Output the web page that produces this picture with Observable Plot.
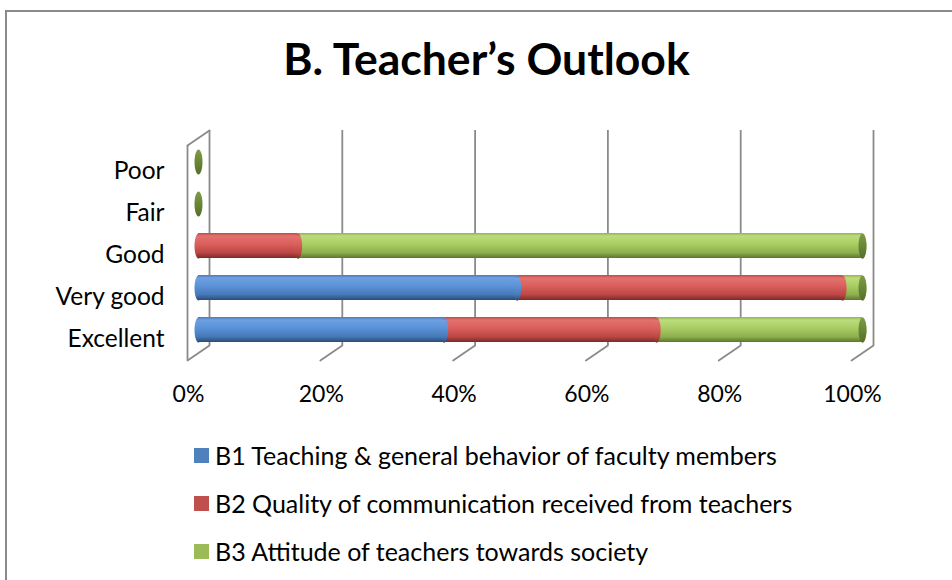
<!DOCTYPE html>
<html>
<head>
<meta charset="utf-8">
<script src="https://cdn.jsdelivr.net/npm/d3@7"></script>
<script src="https://cdn.jsdelivr.net/npm/@observablehq/plot@0.6"></script>
<style>
  html, body { margin: 0; padding: 0; background: #fff; overflow: hidden; }
  #page { position: relative; width: 952px; height: 580px; overflow: hidden; font-family: Lato, "Open Sans", sans-serif; color: #000; }
  #border { position: absolute; left: 5px; top: 10px; width: 1200px; height: 1200px; border: 2px solid #8a8a8a; box-sizing: border-box; pointer-events: none; }
  #title { height: 110px; box-sizing: border-box; padding-top: 36px; padding-left: 21px; text-align: center; font-weight: 700; font-size: 44.5px; line-height: 44px; }
  #chart { height: 310px; }
  #legend { padding-top: 11px; }
  .row { height: 48px; display: flex; align-items: center; padding-left: 194px; font-size: 25px; }
  .sw { width: 15px; height: 15px; margin-right: 6px; flex: none; }
</style>
</head>
<body>
<div id="page">
  <div id="title"></div>
  <div id="chart"></div>
  <div id="legend"></div>
  <div id="border"></div>
</div>
<script>
const titleText = "B. Teacher\u2019s Outlook";
const categories = ["Poor", "Fair", "Good", "Very good", "Excellent"];
const seriesNames = [
  "B1 Teaching & general behavior of faculty members",
  "B2 Quality of communication received from teachers",
  "B3 Attitude of teachers towards society"
];
const b1Values = [0, 0, 0, 48, 37];
const b2Values = [0, 0, 15, 49, 32];
const b3Values = [0, 0, 85, 3, 31];
const tickValues = [0, 20, 40, 60, 80, 100];
const tickLabels = ["0%", "20%", "40%", "60%", "80%", "100%"];
const legendColors = ["#4f81bd", "#c0504d", "#9bbb59"];
const gradientIds = ["gB1", "gB2", "gB3"];

const seriesArrays = [b1Values, b2Values, b3Values];
const rows = categories.flatMap((c, i) =>
  seriesArrays.map((arr, j) => ({category: c, series: seriesNames[j], value: arr[i]}))
);

// elliptical cap symbol (cylinder end)
const ellipse = {
  draw(ctx) {
    const rx = 4, ry = 12.5, k = 0.5523;
    ctx.moveTo(rx, 0);
    ctx.bezierCurveTo(rx, k * ry, k * rx, ry, 0, ry);
    ctx.bezierCurveTo(-k * rx, ry, -rx, k * ry, -rx, 0);
    ctx.bezierCurveTo(-rx, -k * ry, -k * rx, -ry, 0, -ry);
    ctx.bezierCurveTo(k * rx, -ry, rx, -k * ry, rx, 0);
    ctx.closePath();
  }
};
const line = { draw(ctx, l) { ctx.moveTo(0, 0); ctx.lineTo(0, -l); } };
const gray = "#8a8a8a";
const nonzero = d => d.value > 0;

const chart = Plot.plot({
  width: 952,
  height: 310,
  marginLeft: 198,
  marginRight: 90,
  marginTop: 29,
  marginBottom: 69,
  style: {fontFamily: "Lato, 'Open Sans', sans-serif", fontSize: "23px", color: "#000", background: "transparent", overflow: "visible"},
  x: {domain: [0, 100]},
  y: {domain: categories, paddingInner: 0.41, paddingOuter: 0.205},
  color: {domain: seriesNames, range: gradientIds.map(id => `url(#${id})`)},
  marks: [
    // back-wall gridlines
    Plot.ruleX(tickValues, {dx: 11, insetTop: -9, insetBottom: 6, stroke: gray, strokeWidth: 1.8}),
    // floor diagonals
    Plot.vector(tickValues, {x: d => d, frameAnchor: "bottom", dx: 11, dy: -6, anchor: "start", length: 26.6, rotate: 235.7, shape: line, stroke: gray, strokeWidth: 1.8}),
    // side wall
    Plot.ruleX([0], {dx: -11, insetTop: 6, insetBottom: -9, stroke: gray, strokeWidth: 1.8}),
    Plot.vector([0], {x: d => d, frameAnchor: "top", dx: 11, dy: -9, anchor: "start", length: 26.6, rotate: 235.7, shape: line, stroke: gray, strokeWidth: 1.8}),
    // rounded starts
    Plot.dot(rows, Plot.stackX1({filter: nonzero, x: "value", y: "category", fill: "series", symbol: ellipse, r: 4})),
    // cylinder bodies
    Plot.barX(rows, {filter: nonzero, x: "value", y: "category", fill: "series"}),
    // segment end curves
    Plot.dot(rows, Plot.stackX2({filter: nonzero, x: "value", y: "category", fill: "series", symbol: ellipse, r: 4})),
    // end faces
    Plot.dot(rows, Plot.groupY({x: "sum"}, {x: "value", y: "category", fill: "url(#gCap)", symbol: ellipse, r: 4})),
    Plot.axisX(tickValues, {tickSize: 0, tickPadding: 34, dx: -10, tickFormat: d => tickLabels[tickValues.indexOf(d)], label: null, fontSize: 23}),
    Plot.axisY({tickSize: 0, tickPadding: 34, dy: 9, label: null, fontSize: 24.5})
  ]
});

const defs = `<defs>
  <linearGradient id="gB1" x1="0" y1="0" x2="0" y2="1">
    <stop offset="0" stop-color="#4a7cbc"/><stop offset="0.12" stop-color="#6ea0e2"/>
    <stop offset="0.45" stop-color="#5a91d6"/><stop offset="0.78" stop-color="#4679b8"/>
    <stop offset="1" stop-color="#2c4b77"/></linearGradient>
  <linearGradient id="gB2" x1="0" y1="0" x2="0" y2="1">
    <stop offset="0" stop-color="#bf4a47"/><stop offset="0.12" stop-color="#e3726f"/>
    <stop offset="0.45" stop-color="#d95e5b"/><stop offset="0.78" stop-color="#bc4745"/>
    <stop offset="1" stop-color="#7a2b29"/></linearGradient>
  <linearGradient id="gB3" x1="0" y1="0" x2="0" y2="1">
    <stop offset="0" stop-color="#90b450"/><stop offset="0.12" stop-color="#bddc7c"/>
    <stop offset="0.45" stop-color="#a8cc62"/><stop offset="0.78" stop-color="#8fb04e"/>
    <stop offset="1" stop-color="#5b772b"/></linearGradient>
  <linearGradient id="gCap" x1="0" y1="0" x2="0" y2="1">
    <stop offset="0" stop-color="#7d9d44"/><stop offset="1" stop-color="#566f2a"/></linearGradient>
</defs>`;
chart.insertAdjacentHTML("afterbegin", defs);
document.getElementById("chart").appendChild(chart);
document.getElementById("title").textContent = titleText;

const legend = document.getElementById("legend");
seriesNames.forEach((name, i) => {
  const row = document.createElement("div");
  row.className = "row";
  const sw = document.createElement("span");
  sw.className = "sw";
  sw.style.background = legendColors[i];
  const label = document.createElement("span");
  label.textContent = name;
  row.appendChild(sw);
  row.appendChild(label);
  legend.appendChild(row);
});
</script>
</body>
</html>
